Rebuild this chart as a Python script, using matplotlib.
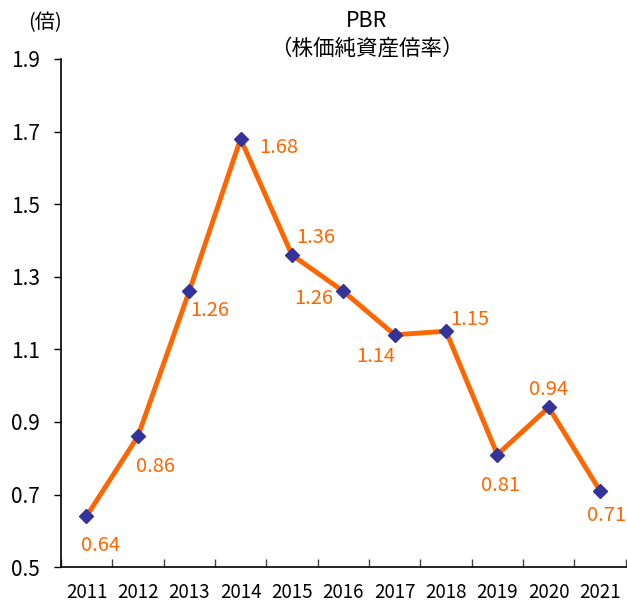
import numpy as np
import matplotlib.pyplot as plt
from matplotlib.ticker import FixedLocator

plt.rcParams['font.family'] = ['Noto Sans CJK JP', 'DejaVu Sans']

years = ["2011", "2012", "2013", "2014", "2015", "2016", "2017", "2018", "2019", "2020", "2021"]
pbr = [0.64, 0.86, 1.26, 1.68, 1.36, 1.26, 1.14, 1.15, 0.81, 0.94, 0.71]
# label offsets in pixels (dx, dy)
label_offsets = [(14, -29), (18, -30), (21, -19), (38, -9), (24, 17), (-30, -7),
                 (-19, -22), (24, 12), (3, -31), (0, 18), (6, -25)]

LINE = "#FF6600"
MARK = "#333399"

fig = plt.figure(figsize=(6.27, 6.02), dpi=100)
ax = fig.add_axes([0.097, 0.058, 0.901, 0.844])

x = np.arange(len(years))
ax.plot(x, pbr, color=LINE, lw=3.5, zorder=2)
ax.plot(x, pbr, ls="none", marker="D", ms=7, color=MARK, zorder=3)

for xi, v, (dx, dy) in zip(x, pbr, label_offsets):
    ax.annotate(f"{v:.2f}", (xi, v), xytext=(dx, dy), textcoords="offset pixels",
                ha="center", va="center", color=LINE, fontsize=14.5)

ax.set_xlim(-0.5, len(years) - 0.5)
ax.set_ylim(0.5, 1.9)
ax.set_yticks(np.arange(0.5, 1.91, 0.2))
ax.set_yticklabels([f"{t:.1f}" for t in np.arange(0.5, 1.91, 0.2)], fontsize=15)
ax.tick_params(axis="y", direction="out", length=5, width=1, pad=10)

ax.set_xticks(x)
ax.set_xticklabels(years, fontsize=13.5)
ax.xaxis.set_minor_locator(FixedLocator(np.arange(-0.5, len(years), 1.0)))
ax.tick_params(axis="x", which="major", length=0, pad=11)
ax.tick_params(axis="x", which="minor", direction="in", length=6, width=1, color="#444444")

ax.spines["top"].set_visible(False)
ax.spines["right"].set_visible(False)
ax.spines["left"].set_linewidth(1.2)
ax.spines["bottom"].set_linewidth(1.2)

fig.text(0.585, 0.965, "PBR", ha="center", va="center", fontsize=15.5)
fig.text(0.585, 0.92, "（株価純資産倍率）", ha="center", va="center", fontsize=15.5)
fig.text(0.072, 0.963, "(倍)", ha="center", va="center", fontsize=14.5)

fig.savefig("out.png", dpi=100)
